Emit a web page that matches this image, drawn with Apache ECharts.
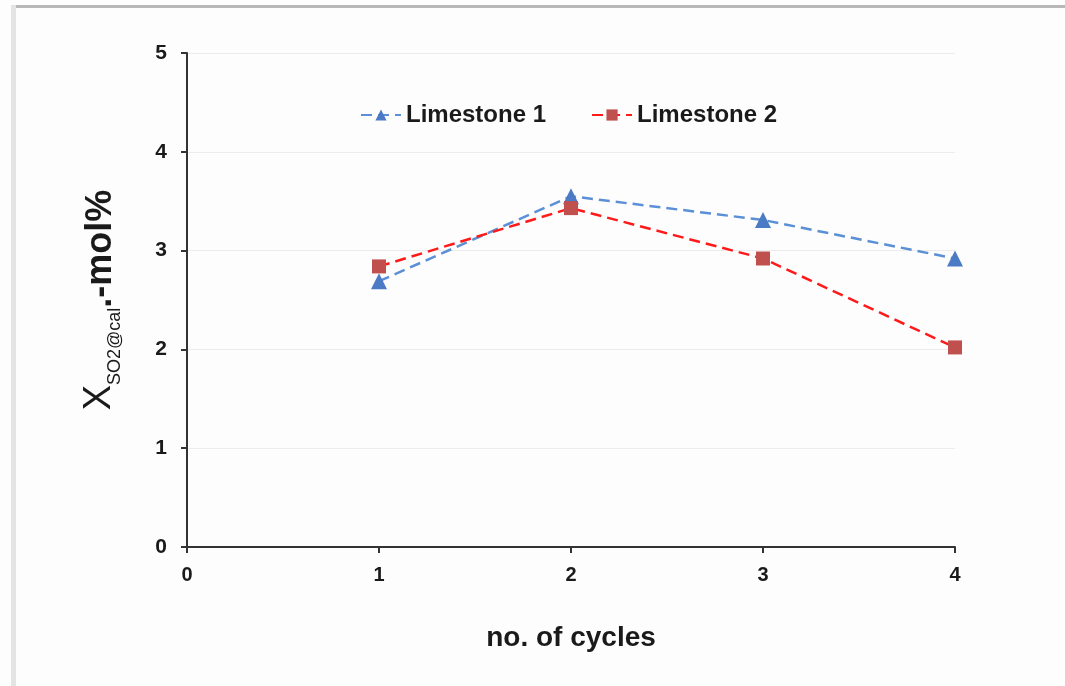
<!DOCTYPE html>
<html>
<head>
<meta charset="utf-8">
<script src="https://cdn.jsdelivr.net/npm/echarts@6/dist/echarts.min.js"></script>
<style>
html,body{margin:0;padding:0;background:#fdfdfd;}
#c{width:1065px;height:686px;}
</style>
</head>
<body>
<div id="c"></div>
<script>
var cycles = [1, 2, 3, 4];
var limestone1 = [2.69, 3.55, 3.31, 2.92];
var limestone2 = [2.84, 3.43, 2.92, 2.02];
var xTicks = [0, 1, 2, 3, 4];
var yTicks = [0, 1, 2, 3, 4, 5];

function pairs(xs, ys) { return xs.map(function (x, i) { return [x, ys[i]]; }); }

var chart = echarts.init(document.getElementById('c'));
chart.setOption({
  backgroundColor: '#fdfdfd',
  animation: false,
  graphic: [
    { type: 'rect', shape: { x: 11, y: 5, width: 1060, height: 3 }, style: { fill: '#b8b8b8' } },
    { type: 'rect', shape: { x: 11, y: 5, width: 5, height: 690 }, style: { fill: '#e4e4e4' } }
  ],
  grid: { left: 187, right: 110, top: 53, bottom: 139 },
  legend: {
    top: 98, left: 355, itemGap: 45, itemWidth: 40, itemHeight: 14,
    textStyle: { fontFamily: 'Liberation Sans', fontWeight: 'bold', fontSize: 24, color: '#1a1a1a' },
    data: ['Limestone 1', 'Limestone 2']
  },
  xAxis: {
    type: 'value', min: 0, max: 4, interval: 1,
    name: 'no. of cycles', nameLocation: 'middle', nameGap: 77,
    nameTextStyle: { fontFamily: 'Liberation Sans', fontWeight: 'bold', fontSize: 28, color: '#1a1a1a' },
    axisLine: { show: true, lineStyle: { color: '#333', width: 2 } },
    axisTick: { show: true, length: 6, lineStyle: { color: '#333', width: 2 } },
    axisLabel: { margin: 18, fontFamily: 'Liberation Sans', fontWeight: 'bold', fontSize: 20, color: '#1a1a1a',
      formatter: function (v) { return xTicks.indexOf(v) >= 0 ? String(v) : ''; } },
    splitLine: { show: false }
  },
  yAxis: {
    type: 'value', min: 0, max: 5, interval: 1,
    name: '{x|X}{sub|SO2@cal}{n|.-mol%}', nameLocation: 'middle', nameGap: 68, nameRotate: 90,
    nameTextStyle: {
      rich: {
        x: { fontFamily: 'Liberation Sans', fontSize: 38, color: '#1a1a1a', lineHeight: 40, verticalAlign: 'bottom' },
        sub: { fontFamily: 'Liberation Sans', fontSize: 18, color: '#1a1a1a', lineHeight: 40, verticalAlign: 'bottom', padding: [0, 0, -5, 0] },
        n: { fontFamily: 'Liberation Sans', fontWeight: 'bold', fontSize: 36, color: '#1a1a1a', lineHeight: 40, verticalAlign: 'bottom' }
      }
    },
    axisLine: { show: true, lineStyle: { color: '#333', width: 2 } },
    axisTick: { show: true, length: 6, lineStyle: { color: '#333', width: 2 } },
    axisLabel: { margin: 20, fontFamily: 'Liberation Sans', fontWeight: 'bold', fontSize: 21, color: '#1a1a1a',
      formatter: function (v) { return yTicks.indexOf(v) >= 0 ? String(v) : ''; } },
    splitLine: { show: true, lineStyle: { color: '#ececec', width: 1 } }
  },
  series: [
    {
      name: 'Limestone 1', type: 'line', data: pairs(cycles, limestone1),
      symbol: 'triangle', symbolSize: 16,
      itemStyle: { color: '#4a7bc4' },
      lineStyle: { color: '#5b8fd6', width: 2.5, type: [11, 6] }
    },
    {
      name: 'Limestone 2', type: 'line', data: pairs(cycles, limestone2),
      symbol: 'rect', symbolSize: 14,
      itemStyle: { color: '#c0504d' },
      lineStyle: { color: '#ff1a1a', width: 2.5, type: [11, 6] }
    }
  ]
});
</script>
</body>
</html>
